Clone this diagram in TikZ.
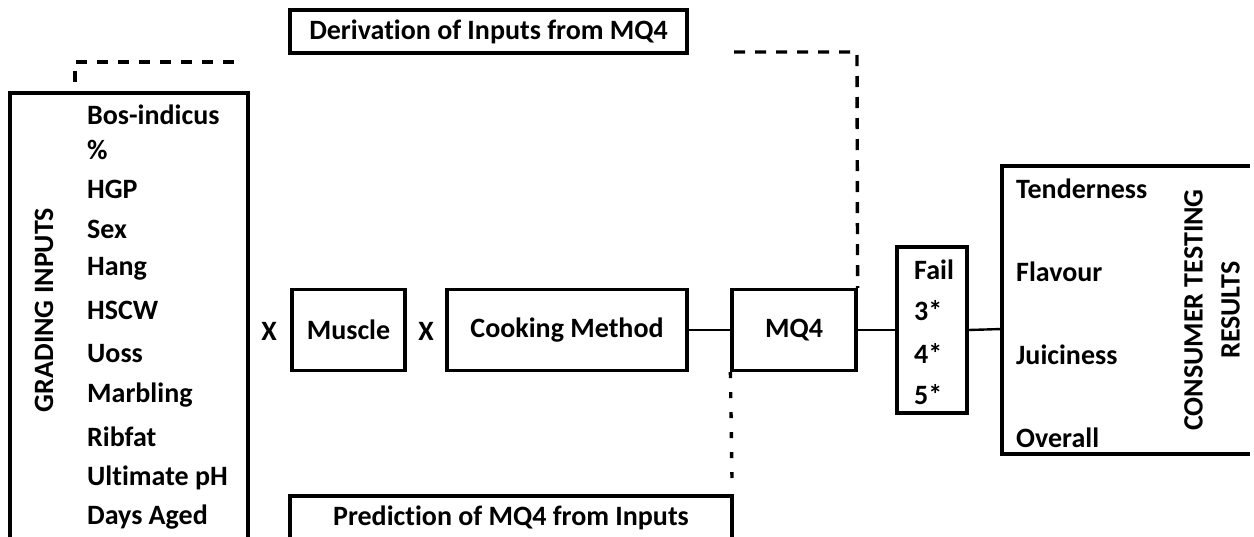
\documentclass[tikz,border=0pt]{standalone}
\usepackage{fontspec}
\setmainfont[Ligatures=NoCommon]{Carlito}
\begin{document}
\begin{tikzpicture}[x=1pt,y=-1pt,
  every node/.style={font=\fontsize{28}{32}\selectfont\bfseries, inner sep=0pt},
  box/.style={draw, line width=3.2pt},
  open/.style={line width=3.2pt},
  conn/.style={line width=2.4pt},
  dash1/.style={line width=3.4pt, dash pattern=on 11pt off 10pt},
  dot1/.style={line width=3.4pt, dash pattern=on 6pt off 14pt},
  item/.style={anchor=west}]
\useasboundingbox (0,0) rectangle (1254,536);
% top/bottom label boxes
\node[box, minimum width=397pt, minimum height=43pt] (deriv) at (488.5,31.5) {Derivation of Inputs from MQ4};
\node (pred) at (511,518) {Prediction of MQ4 from Inputs};
\draw[open] (290,545) -- (290,496) -- (732,496) -- (732,545);
% grading inputs (open bottom)
\coordinate (gtl) at (10,93);
\coordinate (gtr) at (248,93);
\draw[open] (10,545) -- (gtl) -- (gtr) -- (248,545);
\node[rotate=90] (grading) at (44,310) {GRADING INPUTS};
\node[item] (g1) at (87,115) {Bos-indicus};
\node[item] (g2) at (87,150) {\%};
\node[item] (g3) at (87,189) {HGP};
\node[item] (g4) at (87,229) {Sex};
\node[item] (g5) at (87,269) {Hang};
\node[item] (g6) at (87,310) {HSCW};
\node[item] (g7) at (87,354) {Uoss};
\node[item] (g8) at (87,395) {Marbling};
\node[item] (g9) at (87,437) {Ribfat};
\node[item] (g10) at (87,478) {Ultimate pH};
\node[item] (g11) at (87,517) {Days Aged};
% middle chain
\node (x1) at (269,331) {X};
\node[box, minimum width=113pt, minimum height=81pt] (muscle) at (348.5,330) {Muscle};
\node (x2) at (426,331) {X};
\node[box, minimum width=240pt, minimum height=81pt] (cook) at (567,330) {Cooking Method};
\node[box, minimum width=124pt, minimum height=81pt] (mq4) at (794,330) {MQ4};
\node[box, minimum width=70pt, minimum height=166pt] (fail) at (932,330) {};
\node[item] (f1) at (914,270) {Fail};
\node[item] (f2) at (914,311) {3*};
\node[item] (f3) at (914,353) {4*};
\node[item] (f4) at (914,395) {5*};
% consumer box (open right)
\coordinate (ctl) at (1002,166);
\coordinate (cbl) at (1002,454);
\draw[open] (1250,166) -- (ctl) -- (cbl) -- (1250,454);
\coordinate (cin) at (1002,329);
\node[item] (c1) at (1016,189) {Tenderness};
\node[item] (c2) at (1016,272) {Flavour};
\node[item] (c3) at (1016,355) {Juiciness};
\node[item] (c4) at (1016,438) {Overall};
\node[rotate=90, align=center, font=\fontsize{28}{37}\selectfont\bfseries] (cons) at (1212,310) {CONSUMER TESTING\\RESULTS};
% connectors
\draw[conn] (cook.east) -- (mq4.west);
\draw[conn] (mq4.east) -- (fail.west);
\draw[conn] (fail.east) -- (cin);
% dashed / dotted
\coordinate (d1) at (75,82);
\coordinate (d2) at (75,62);
\coordinate (d3) at (243,62);
\draw[dash1] (d1) -- (d2) -- (d3);
\coordinate (d4) at (734,52);
\coordinate (d5) at (857,52);
\draw[dash1] (d4) -- (d5) -- (mq4.north east);
\coordinate (d6) at (732,478);
\draw[dot1] (mq4.south west) -- (d6);
\end{tikzpicture}
\end{document}
